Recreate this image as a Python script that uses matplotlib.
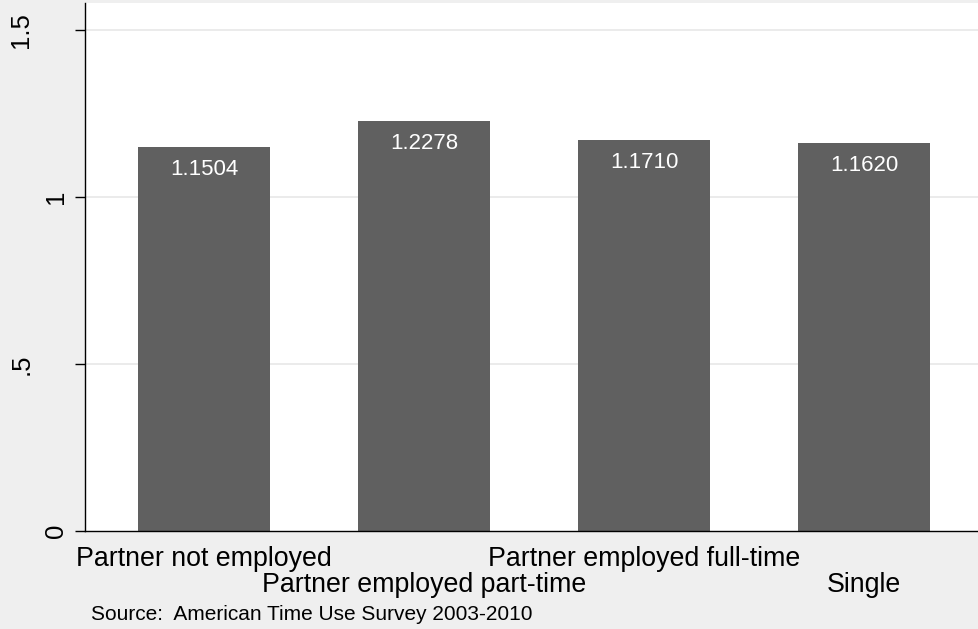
import numpy as np
import matplotlib
matplotlib.use("Agg")
import matplotlib.pyplot as plt

plt.rcParams['font.family'] = ['Liberation Sans', 'DejaVu Sans']

# Data
categories = ["Partner not employed", "Partner employed part-time",
              "Partner employed full-time", "Single"]
values = [1.1504, 1.2278, 1.1710, 1.1620]
yticks = [0, 0.5, 1, 1.5]
ytick_labels = ["0", ".5", "1", "1.5"]
source_note = "Source:  American Time Use Survey 2003-2010"

bg = "#efefef"
bar_color = "#606060"

fig = plt.figure(figsize=(9.79, 6.29), dpi=100, facecolor=bg)
ax = fig.add_axes([85/979, 98/629, 894/979, 528/629])
ax.set_facecolor("white")

x = np.arange(len(values))
ax.bar(x, values, width=0.6, color=bar_color, zorder=2)

for xi, v in zip(x, values):
    ax.annotate(f"{v:.4f}", (xi, v), xytext=(0, -16.5), textcoords="offset points",
                ha="center", va="center", color="white", fontsize=16, zorder=3)

ax.set_xlim(-0.541, 3.523)
ax.set_ylim(0, 1.581)

# y axis
ax.set_yticks(yticks)
ax.set_yticklabels(ytick_labels, rotation=90, va="center", fontsize=18.5)
ax.tick_params(axis="y", length=7.2, width=1, color="black")
for t, lab in zip(ax.yaxis.get_major_ticks(), ytick_labels):
    t.set_pad(5 if len(lab) == 1 else 30)
for yv in yticks[1:]:
    ax.axhline(yv, color="#e6e6e6", lw=1.1, zorder=1)

# x axis with staggered labels (alternate rows)
ax.set_xticks(x)
ax.set_xticklabels(categories, fontsize=19.3)
ax.tick_params(axis="x", length=0)
for i, t in enumerate(ax.xaxis.get_major_ticks()):
    t.set_pad(10.5 if i % 2 == 0 else 29.5)

for s in ["top", "right"]:
    ax.spines[s].set_visible(False)
for s in ["left", "bottom"]:
    ax.spines[s].set_color("black")
    ax.spines[s].set_linewidth(1)

fig.text(91/979, 1 - 614/629, source_note, fontsize=15, va="center", ha="left")

fig.savefig("out.png", dpi=100, facecolor=bg)
